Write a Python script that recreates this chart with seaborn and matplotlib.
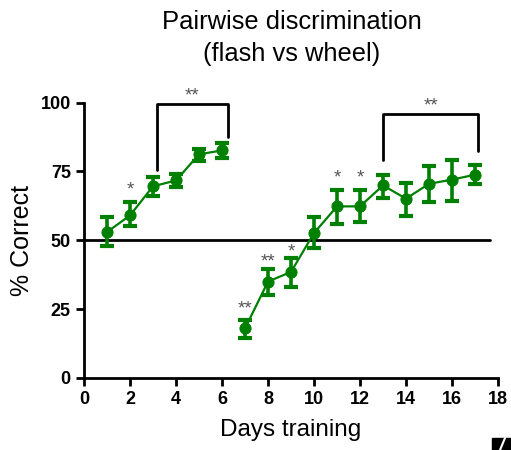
import numpy as np
import pandas as pd
import matplotlib
matplotlib.use("Agg")
import matplotlib.pyplot as plt
import seaborn as sns
from matplotlib.patches import Rectangle

# Data
days = [1, 2, 3, 4, 5, 6, 7, 8, 9, 10, 11, 12, 13, 14, 15, 16, 17]
pct_correct = [53, 59, 69.6, 71.7, 81.2, 82.6, 18, 35, 38.5, 52.6, 62.3, 62.3, 69.9, 65.1, 70.5, 72, 73.8]
err_upper = [58.5, 64, 73, 74, 83.2, 85.3, 21, 39.4, 43.4, 58.4, 68.4, 68.4, 73.8, 70.8, 76.8, 79.2, 77.2]
err_lower = [48, 55, 66, 69.3, 78.6, 79.8, 14.4, 30, 33.1, 47.3, 56, 56.6, 65.3, 58.7, 64, 64.2, 70.5]
phase = ["first"] * 6 + ["reversal"] * 11

# significance marks (baseline of the text)
star_days = [2, 7, 8, 9, 11, 12]
star_y = [66.5, 23.5, 40.5, 44, 71, 71]
star_labels = ["*", "**", "**", "*", "*", "*"]

# brackets: x0, x1, top, left foot, right foot
brackets = [(3.17, 6.26, 99.6, 75.4, 87.3), (13, 17.15, 96, 79.2, 82.3)]
chance_level = 50

green = "#008000"
star_grey = "#555555"

sns.set_style("ticks")
plt.rcParams["font.family"] = ["Liberation Sans", "DejaVu Sans"]
plt.rcParams["text.color"] = "black"
plt.rcParams["axes.labelcolor"] = "black"

df = pd.DataFrame({"day": days, "pct": pct_correct, "phase": phase})

fig = plt.figure(figsize=(5.11, 4.5), dpi=100)
ax = fig.add_axes([0.1644, 0.16, 0.8102, 0.6122])

# one line per training phase, so day 6 and day 7 are not joined
sns.lineplot(data=df, x="day", y="pct", units="phase", estimator=None,
             ax=ax, color=green, lw=1.6, marker="o", markersize=8,
             markeredgecolor=green, zorder=3, legend=False)

yerr = np.vstack([np.array(pct_correct) - np.array(err_lower),
                  np.array(err_upper) - np.array(pct_correct)])
ax.errorbar(days, pct_correct, yerr=yerr, fmt="none", ecolor=green,
            elinewidth=2.6, capsize=5, capthick=3, zorder=2)

ax.plot([0, 17.65], [chance_level, chance_level], color="black", lw=2,
        zorder=1)

for x0, x1, top, yl, yr in brackets:
    ax.plot([x0, x0, x1, x1], [yl, top, top, yr], color="black", lw=2,
            clip_on=False)
    ax.text((x0 + x1) / 2, top + 1.2, "**", ha="center",
            va="baseline", color=star_grey, fontsize=13.5, clip_on=False)

for x, y, s in zip(star_days, star_y, star_labels):
    ax.text(x, y, s, ha="center", va="baseline", color=star_grey,
            fontsize=13.5)

ax.set_xlim(0, 18)
ax.set_ylim(0, 100)
ax.set_xticks(range(0, 19, 2))
ax.set_yticks([0, 25, 50, 75, 100])
ax.tick_params(axis="both", direction="out", length=5.5, width=2,
               labelsize=13, colors="black", pad=4)
for lab in ax.get_xticklabels() + ax.get_yticklabels():
    lab.set_fontweight("bold")
for side in ["left", "bottom"]:
    ax.spines[side].set_linewidth(2)
    ax.spines[side].set_color("black")
sns.despine(ax=ax)

ax.set_xlabel("Days training", fontsize=17.5, labelpad=7.5)
ax.set_ylabel("% Correct", fontsize=18, labelpad=4.5)
fig.text(0.571, 0.978, "Pairwise discrimination\n(flash vs wheel)",
         ha="center", va="top", fontsize=18.4, linespacing=1.45)

# cropped corner of the neighbouring panel
fig.patches.append(Rectangle((492 / 511, 0), 19 / 511, 12 / 450,
                             transform=fig.transFigure, color="black"))
fig.lines.append(plt.Line2D([500 / 511, 505 / 511], [0, 12 / 450],
                            transform=fig.transFigure, color="white", lw=1.5))

fig.savefig("out.png", dpi=100, facecolor="white")
